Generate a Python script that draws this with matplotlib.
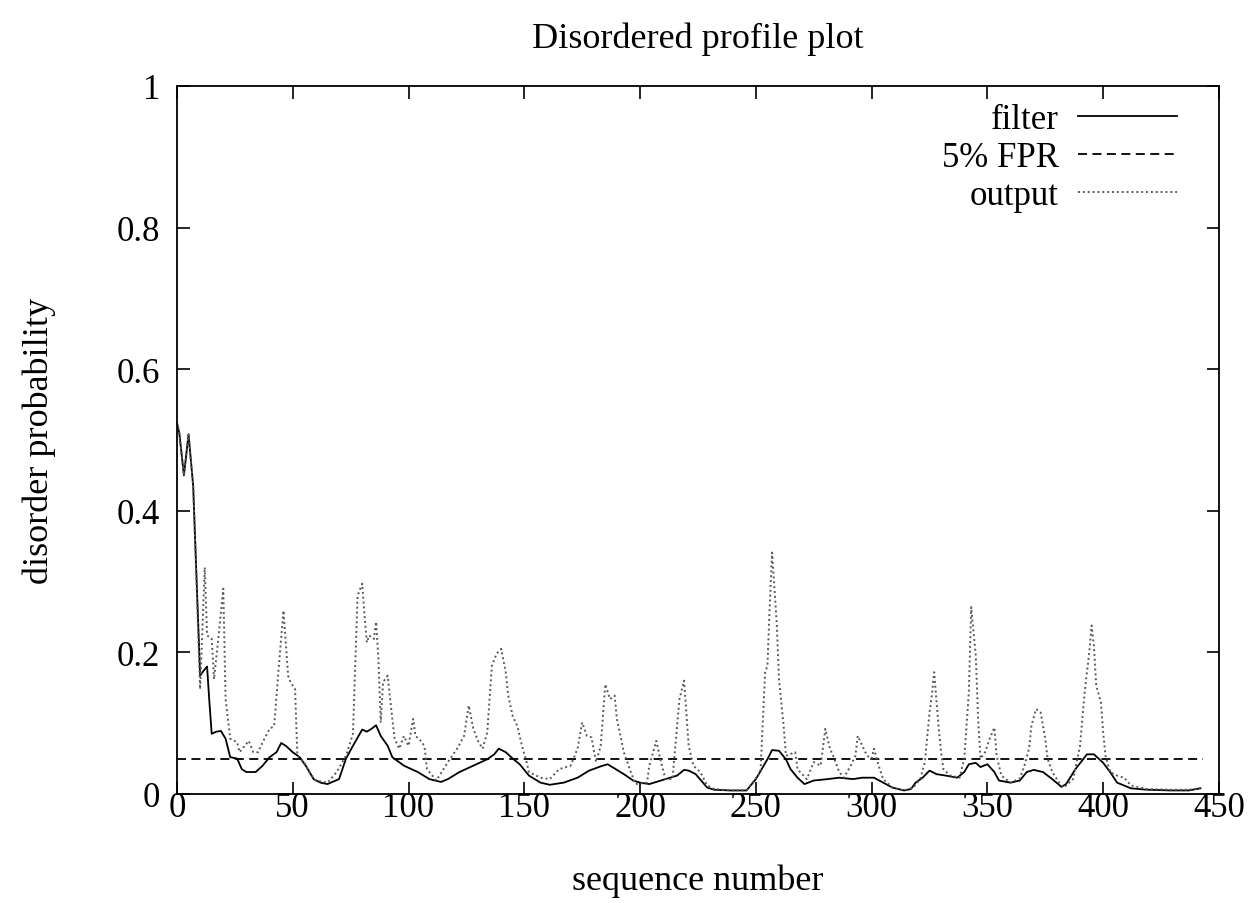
import matplotlib
matplotlib.use("Agg")
import matplotlib.pyplot as plt

# values (sequence number, probability)
filter_x = [0, 1, 3, 5, 7, 10, 11, 13, 14, 15, 17, 19, 21, 23, 26, 28, 30, 34, 37, 40,
            43, 45, 47, 50, 53, 56, 59, 62, 65, 70, 73, 76, 80, 82, 84, 86, 88, 91, 93, 98,
            104, 109, 114, 117, 122, 128, 134, 137, 139, 142, 145, 148, 152, 157, 161, 167,
            173, 178, 183, 186, 188, 193, 197, 200, 204, 209, 213, 216, 219, 221, 224, 229,
            232, 239, 246, 250, 255, 257, 260, 263, 265, 268, 271, 275, 281, 286, 292, 296,
            301, 305, 309, 314, 317, 319, 322, 325, 328, 332, 337, 340, 342, 345, 347, 350,
            353, 355, 360, 364, 367, 370, 374, 378, 382, 384, 388, 393, 396, 400, 403, 406,
            412, 419, 429, 437, 442]
filter_y = [0.524, 0.51, 0.45, 0.508, 0.435, 0.167, 0.172, 0.18, 0.13, 0.085, 0.088, 0.089,
            0.078, 0.052, 0.05, 0.035, 0.031, 0.031, 0.04, 0.052, 0.059, 0.072, 0.068, 0.059,
            0.052, 0.038, 0.021, 0.016, 0.014, 0.021, 0.05, 0.068, 0.091, 0.088, 0.092, 0.097,
            0.082, 0.068, 0.052, 0.04, 0.031, 0.021, 0.017, 0.021, 0.031, 0.04, 0.049, 0.056,
            0.064, 0.059, 0.05, 0.042, 0.026, 0.016, 0.013, 0.016, 0.023, 0.033, 0.039, 0.042,
            0.038, 0.028, 0.019, 0.016, 0.014, 0.019, 0.023, 0.026, 0.034, 0.033, 0.028, 0.009,
            0.006, 0.005, 0.005, 0.021, 0.049, 0.062, 0.061, 0.049, 0.035, 0.023, 0.014, 0.019,
            0.021, 0.023, 0.021, 0.023, 0.023, 0.016, 0.009, 0.005, 0.007, 0.016, 0.023, 0.033,
            0.028, 0.026, 0.023, 0.031, 0.042, 0.044, 0.038, 0.042, 0.031, 0.019, 0.016, 0.019,
            0.031, 0.034, 0.031, 0.021, 0.010, 0.014, 0.035, 0.056, 0.056, 0.044, 0.031, 0.016,
            0.008, 0.006, 0.005, 0.005, 0.008]

output_x = [0, 1, 3, 5, 7, 10, 12, 13, 15, 16, 18, 20, 21, 23, 26, 27, 31, 33, 35, 37, 40,
            42, 44, 46, 48, 49, 51, 52, 55, 57, 60, 65, 69, 73, 76, 78, 80, 81, 82, 83, 85,
            86, 87, 88, 89, 91, 93, 94, 96, 98, 100, 102, 103, 106, 107, 108, 112, 118, 121,
            124, 126, 128, 130, 132, 134, 136, 138, 140, 142, 143, 145, 147, 149, 151, 152,
            157, 161, 165, 170, 173, 175, 177, 179, 181, 183, 185, 187, 189, 190, 193, 196,
            198, 203, 204, 207, 209, 211, 214, 217, 219, 220, 221, 223, 226, 229, 232, 239,
            246, 252, 254, 255, 256, 257, 259, 260, 262, 263, 267, 268, 272, 275, 278, 280,
            282, 284, 286, 288, 291, 293, 294, 296, 298, 300, 301, 303, 305, 309, 314, 318,
            321, 323, 325, 326, 327, 329, 330, 331, 334, 338, 340, 342, 343, 345, 346, 347,
            349, 351, 353, 354, 356, 360, 364, 366, 368, 369, 371, 373, 375, 376, 378, 381,
            383, 387, 390, 392, 394, 395, 396, 397, 399, 400, 401, 403, 406, 409, 412, 419,
            429, 437, 442]
output_y = [0.524, 0.51, 0.45, 0.508, 0.435, 0.148, 0.32, 0.224, 0.219, 0.162, 0.224, 0.29,
            0.134, 0.078, 0.073, 0.059, 0.075, 0.059, 0.059, 0.073, 0.092, 0.096, 0.181, 0.259,
            0.167, 0.158, 0.148, 0.054, 0.045, 0.031, 0.019, 0.016, 0.031, 0.054, 0.085, 0.28,
            0.297, 0.252, 0.214, 0.224, 0.219, 0.243, 0.191, 0.101, 0.158, 0.167, 0.106, 0.078,
            0.064, 0.082, 0.068, 0.106, 0.082, 0.073, 0.064, 0.035, 0.019, 0.05, 0.064, 0.082,
            0.125, 0.092, 0.075, 0.064, 0.087, 0.181, 0.198, 0.205, 0.172, 0.140, 0.11, 0.096,
            0.068, 0.045, 0.031, 0.023, 0.021, 0.035, 0.04, 0.064, 0.101, 0.082, 0.08, 0.045,
            0.068, 0.155, 0.134, 0.139, 0.106, 0.059, 0.031, 0.014, 0.016, 0.04, 0.075, 0.045,
            0.021, 0.021, 0.134, 0.16, 0.115, 0.068, 0.04, 0.031, 0.012, 0.007, 0.005, 0.005,
            0.031, 0.172, 0.181, 0.266, 0.341, 0.243, 0.162, 0.096, 0.054, 0.059, 0.035, 0.021,
            0.045, 0.04, 0.092, 0.064, 0.049, 0.031, 0.023, 0.04, 0.054, 0.082, 0.068, 0.054,
            0.05, 0.064, 0.04, 0.021, 0.009, 0.005, 0.009, 0.021, 0.045, 0.115, 0.139, 0.172,
            0.092, 0.059, 0.035, 0.026, 0.023, 0.05, 0.144, 0.264, 0.195, 0.106, 0.05, 0.059,
            0.078, 0.094, 0.054, 0.026, 0.016, 0.022, 0.04, 0.064, 0.096, 0.12, 0.115, 0.078,
            0.05, 0.031, 0.016, 0.009, 0.021, 0.068, 0.144, 0.2, 0.238, 0.209, 0.153, 0.13,
            0.087, 0.054, 0.031, 0.026, 0.023, 0.012, 0.007, 0.006, 0.006, 0.008]

FPR = 0.05
FPR_END = 443

x_ticks = [0, 50, 100, 150, 200, 250, 300, 350, 400, 450]
y_ticks = [0, 0.2, 0.4, 0.6, 0.8, 1]
y_tick_labels = ["0", "0.2", "0.4", "0.6", "0.8", "1"]

plt.rcParams["font.family"] = ["Liberation Serif", "DejaVu Serif"]
plt.rcParams["font.size"] = 25

fig = plt.figure(figsize=(12.56, 9.04), dpi=100)
ax = fig.add_axes([0.1409, 0.1206, 0.8296, 0.7832])

ax.plot(filter_x, filter_y, color="black", lw=1.3, label="filter")
ax.plot([0, FPR_END], [FPR, FPR], color="black", lw=1.3, linestyle=(0, (5, 3)),
        label="5% FPR")
ax.plot(output_x, output_y, color="0.35", lw=1.4, linestyle=(0, (1, 1.5)), label="output")

ax.set_xlim(0, 450)
ax.set_ylim(0, 1)
ax.set_xticks(x_ticks)
ax.set_yticks(y_ticks)
ax.set_yticklabels(y_tick_labels)
ax.tick_params(direction="in", length=9, width=1.2, top=True, right=True, labelsize=25)
ax.tick_params(axis="x", pad=-2)
ax.tick_params(axis="y", pad=12)
for s in ax.spines.values():
    s.set_linewidth(1.3)

ax.set_title("Disordered profile plot", pad=28, fontsize=26)
ax.set_xlabel("sequence number", labelpad=28, fontsize=26)
ax.set_ylabel("disorder probability", labelpad=44, fontsize=26)

ax.legend(loc="upper right", frameon=False, markerfirst=False, handlelength=2.85,
          handletextpad=0.55, labelspacing=0.14, borderaxespad=0.1, fontsize=25,
          bbox_to_anchor=(0.976, 1.0))

fig.savefig("out.png", dpi=100)
